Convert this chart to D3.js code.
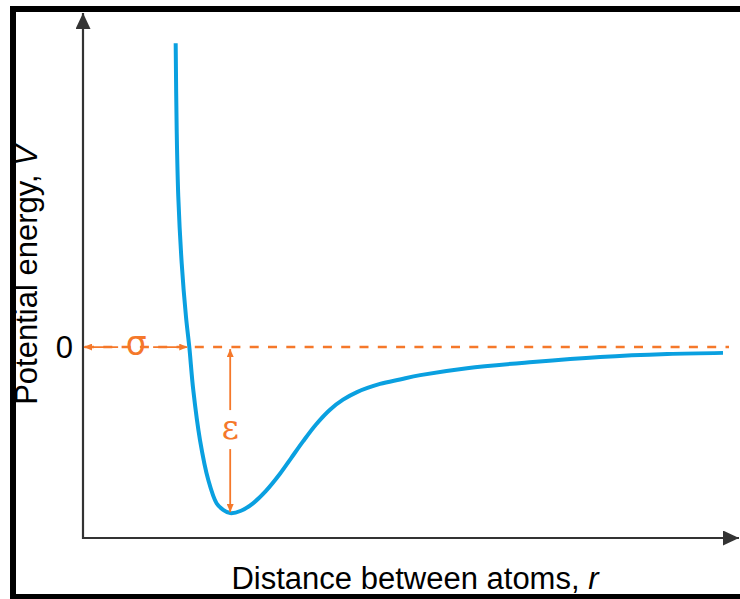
<!DOCTYPE html>
<html>
<head>
<meta charset="utf-8">
<script src="https://cdn.jsdelivr.net/npm/d3@7"></script>
<style>
  body { margin: 0; background: #fff; }
  svg { display: block; font-family: "Liberation Sans", Arial, sans-serif; }
</style>
</head>
<body>
<div id="chart"></div>
<script>
// distance between atoms (arbitrary units) and potential energy (in units of epsilon)
var rValues = [1.448, 1.464, 1.489, 1.542, 1.609, 1.661, 1.723, 1.828, 1.958, 2.089, 2.19, 2.30, 2.469, 2.656, 2.859, 3.078, 3.25, 3.438, 3.641, 3.859, 4.063, 4.281, 4.641, 4.953, 5.27, 6.0, 7.03, 8.08, 9.13, 10.0];
var vValues = [1.83, 1.307, 0.905, 0.506, 0.183, 0.0, -0.259, -0.56, -0.801, -0.942, -0.98, -1.0, -0.986, -0.941, -0.866, -0.763, -0.67, -0.568, -0.466, -0.377, -0.317, -0.271, -0.222, -0.195, -0.169, -0.127, -0.09, -0.06, -0.042, -0.035];
var sigma = 1.66;   // r where V = 0
var rMin = 2.30;    // r at the well bottom
var epsilon = 1.0;  // well depth
var yTicks = [0];
var yTickLabels = ["0"];

var width = 740,
    height = 599,
    margin = {left: 83, right: 17, top: 15, bottom: 61};

var blue = "#0aa0e0",
    orange = "#f5782a",
    axisColor = "#333";

var svg = d3.select("#chart")
    .append("svg")
    .attr("width", width)
    .attr("height", height);

var x = d3.scaleLinear().domain([0, 10]).range([margin.left, margin.left + 640]);
var y = d3.scaleLinear().domain([-1.15, 2.0]).range([height - margin.bottom, margin.top]);

var defs = svg.append("defs");
function marker(id, color, len, half) {
    defs.append("marker")
        .attr("id", id)
        .attr("viewBox", "0 " + (-half) + " " + len + " " + (2 * half))
        .attr("refX", len).attr("refY", 0)
        .attr("markerUnits", "userSpaceOnUse")
        .attr("markerWidth", len).attr("markerHeight", 2 * half)
        .attr("orient", "auto-start-reverse")
        .append("path")
        .attr("d", "M0," + (-half) + "L" + len + ",0L0," + half + "Z")
        .attr("fill", color);
}
marker("axisArrow", axisColor, 16, 7.5);
marker("orangeArrow", orange, 8, 3.5);

// frame
svg.append("path")
    .attr("d", "M760,9H13V597H760")
    .attr("fill", "none")
    .attr("stroke", "#000")
    .attr("stroke-width", 6);

// axes
var x0 = x(0), yBase = y(-1.15);
svg.append("line")
    .attr("x1", x0).attr("y1", yBase + 1)
    .attr("x2", x0).attr("y2", 13)
    .attr("stroke", axisColor).attr("stroke-width", 2.2)
    .attr("marker-end", "url(#axisArrow)");
svg.append("line")
    .attr("x1", x0 - 1).attr("y1", yBase)
    .attr("x2", 739).attr("y2", yBase)
    .attr("stroke", axisColor).attr("stroke-width", 2.2)
    .attr("marker-end", "url(#axisArrow)");

var yAxis = svg.append("g")
    .attr("transform", "translate(" + x0 + ",0)")
    .call(d3.axisLeft(y).tickValues(yTicks).tickFormat(function(d, i) { return yTickLabels[i]; })
        .tickSize(0).tickPadding(10));
yAxis.select(".domain").remove();
yAxis.selectAll("text")
    .attr("font-size", 31)
    .attr("font-family", "Liberation Sans, Arial, sans-serif")
    .attr("fill", "#000")
    .attr("dy", "0.35em");

// zero line
svg.append("line")
    .attr("x1", x0 + 2).attr("y1", y(0))
    .attr("x2", 729).attr("y2", y(0))
    .attr("stroke", orange).attr("stroke-width", 2.5)
    .attr("stroke-dasharray", "9,9.3");

// potential curve
var line = d3.line()
    .x(function(d, i) { return x(rValues[i]); })
    .y(function(d) { return y(d); })
    .curve(d3.curveCatmullRom.alpha(0.5));

svg.append("path")
    .datum(vValues)
    .attr("d", line)
    .attr("fill", "none")
    .attr("stroke", blue)
    .attr("stroke-width", 4);

// sigma arrow
var sx = (x0 + x(sigma)) / 2;
svg.append("line")
    .attr("x1", sx - 18).attr("y1", y(0))
    .attr("x2", x0 + 1).attr("y2", y(0))
    .attr("stroke", orange).attr("stroke-width", 1.8)
    .attr("marker-end", "url(#orangeArrow)");
svg.append("line")
    .attr("x1", sx + 17).attr("y1", y(0))
    .attr("x2", x(sigma) - 2).attr("y2", y(0))
    .attr("stroke", orange).attr("stroke-width", 1.8)
    .attr("marker-end", "url(#orangeArrow)");
svg.append("text")
    .attr("x", sx).attr("y", y(0) + 8)
    .attr("text-anchor", "middle")
    .attr("font-size", 33)
    .attr("font-family", "DejaVu Sans, sans-serif")
    .attr("fill", orange)
    .text("σ");

// epsilon arrow
var ex = x(rMin), ey = (y(0) + y(-epsilon)) / 2;
svg.append("line")
    .attr("x1", ex).attr("y1", ey - 20)
    .attr("x2", ex).attr("y2", y(0) + 2)
    .attr("stroke", orange).attr("stroke-width", 1.8)
    .attr("marker-end", "url(#orangeArrow)");
svg.append("line")
    .attr("x1", ex).attr("y1", ey + 19)
    .attr("x2", ex).attr("y2", y(-epsilon) - 1)
    .attr("stroke", orange).attr("stroke-width", 1.8)
    .attr("marker-end", "url(#orangeArrow)");
svg.append("text")
    .attr("x", ex).attr("y", ey + 9)
    .attr("text-anchor", "middle")
    .attr("font-size", 33)
    .attr("font-family", "DejaVu Serif, serif")
    .attr("fill", orange)
    .text("ε");

// axis titles
svg.append("text")
    .attr("transform", "translate(37,275) rotate(-90)")
    .attr("text-anchor", "middle")
    .attr("font-size", 31)
    .attr("fill", "#000")
    .call(function(t) {
        t.append("tspan").text("Potential energy, ");
        t.append("tspan").attr("font-style", "italic").text("V");
    });

svg.append("text")
    .attr("x", 415).attr("y", 589)
    .attr("text-anchor", "middle")
    .attr("font-size", 31)
    .attr("fill", "#000")
    .call(function(t) {
        t.append("tspan").text("Distance between atoms, ");
        t.append("tspan").attr("font-style", "italic").text("r");
    });
</script>
</body>
</html>
